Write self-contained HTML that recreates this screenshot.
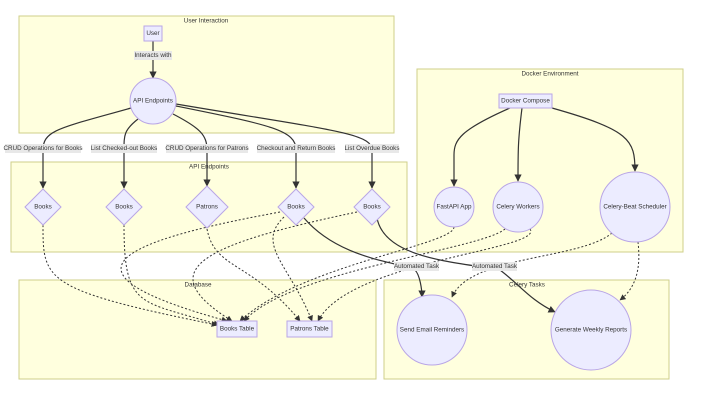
<!DOCTYPE html>
<html><head><meta charset="utf-8"><style>
html,body{margin:0;padding:0;background:#fff}
svg{display:block;font-family:"Liberation Sans",sans-serif}
.cl{fill:#ffffde;stroke:#cfcf8a;stroke-width:1}
.nd{fill:#ececff;stroke:#b9a6e6;stroke-width:1}
.e{fill:none;stroke:#333;stroke-width:1.2}
.d{fill:none;stroke:#333;stroke-width:1;stroke-dasharray:2 2}
text{font-size:6.3px;fill:#333;text-anchor:middle;dominant-baseline:central}
.lb{fill:#e8e8e8}
</style></head><body>
<svg width="721" height="419" viewBox="0 0 721 419">
<defs><marker id="a" viewBox="0 0 10 10" refX="9" refY="5" markerWidth="6" markerHeight="6" orient="auto"><path d="M0,0L10,5L0,10z" fill="#333"/></marker></defs>
<rect class="cl" x="19" y="16" width="375" height="117"/>
<rect class="cl" x="11" y="162" width="396" height="90"/>
<rect class="cl" x="417" y="69" width="266" height="183"/>
<rect class="cl" x="19" y="280" width="357" height="99"/>
<rect class="cl" x="384" y="280" width="285" height="99"/>
<text x="206" y="21">User Interaction</text>
<text x="209" y="167">API Endpoints</text>
<text x="550" y="74">Docker Environment</text>
<text x="198" y="285">Database</text>
<text x="527" y="285">Celery Tasks</text>
<!-- solid edges -->
<path class="e" d="M153,41V78" marker-end="url(#a)"/>
<path class="e" d="M131,108C60,128 43,130 43,150V188" marker-end="url(#a)"/>
<path class="e" d="M138,119C124,130 124,135 124,150V188" marker-end="url(#a)"/>
<path class="e" d="M173,114C200,128 207,135 207,150V186" marker-end="url(#a)"/>
<path class="e" d="M176,106C270,125 296,130 296,150V188" marker-end="url(#a)"/>
<path class="e" d="M176,104C330,130 372,133 372,150V188" marker-end="url(#a)"/>
<path class="e" d="M510,108C460,130 454,140 454,155V186" marker-end="url(#a)"/>
<path class="e" d="M522,108C518,140 518,150 518,181" marker-end="url(#a)"/>
<path class="e" d="M552,108C630,130 635,140 635,171" marker-end="url(#a)"/>
<path class="e" d="M304,218C340,260 400,262 415,270C420,275 422,290 422,297" marker-end="url(#a)"/>
<path class="e" d="M377,218C385,260 460,262 500,270C520,285 530,300 555,312" marker-end="url(#a)"/>
<!-- dotted -->
<path class="d" d="M43,225C43,280 43,290 217,325" marker-end="url(#a)"/>
<path class="d" d="M124,225C124,310 140,300 219,325" marker-end="url(#a)"/>
<path class="d" d="M207,229C215,270 250,260 300,321" marker-end="url(#a)"/>
<path class="d" d="M280,212C100,245 60,275 227,321" marker-end="url(#a)"/>
<path class="d" d="M357,212C200,245 150,270 232,321" marker-end="url(#a)"/>
<path class="d" d="M284,217C255,245 290,265 312,321" marker-end="url(#a)"/>
<path class="d" d="M454,227C454,245 300,265 240,321" marker-end="url(#a)"/>
<path class="d" d="M505,229C480,250 290,270 244,321" marker-end="url(#a)"/>
<path class="d" d="M530,229C545,250 350,260 318,321" marker-end="url(#a)"/>
<path class="d" d="M612,233C580,260 470,255 452,297" marker-end="url(#a)"/>
<path class="d" d="M638,242C640,260 640,285 620,300" marker-end="url(#a)"/>
<!-- nodes -->
<rect class="nd" x="144" y="26" width="18" height="15"/><text x="153" y="33.5">User</text>
<circle class="nd" cx="153" cy="101" r="23"/><text x="153" y="101">API Endpoints</text>
<path class="nd" d="M43,189L61,207L43,225L25,207z"/>
<path class="nd" d="M124,189L142,207L124,225L106,207z"/>
<path class="nd" d="M207,186L228,207L207,228L186,207z"/>
<path class="nd" d="M296,189L314,207L296,225L278,207z"/>
<path class="nd" d="M372,189L390,207L372,225L354,207z"/>
<text x="43" y="207">Books</text><text x="124" y="207">Books</text><text x="207" y="207">Patrons</text><text x="296" y="207">Books</text><text x="372" y="207">Books</text>
<rect class="nd" x="499" y="94" width="53" height="14"/><text x="525.5" y="101">Docker Compose</text>
<circle class="nd" cx="454" cy="207" r="20"/><text x="454" y="207">FastAPI App</text>
<circle class="nd" cx="518" cy="207" r="25"/><text x="518" y="207">Celery Workers</text>
<circle class="nd" cx="635" cy="207" r="35"/><text x="635" y="207">Celery-Beat Scheduler</text>
<rect class="nd" x="217" y="321" width="40" height="16"/><text x="237" y="329">Books Table</text>
<rect class="nd" x="287" y="321" width="45" height="16"/><text x="309.5" y="329">Patrons Table</text>
<circle class="nd" cx="432" cy="330" r="35"/><text x="432" y="330">Send Email Reminders</text>
<circle class="nd" cx="591" cy="330" r="40"/><text x="591" y="330">Generate Weekly Reports</text>
<!-- labels -->
<rect class="lb" x="134" y="51" width="38" height="9"/><text x="153" y="55.5">Interacts with</text>
<rect class="lb" x="5" y="144" width="76" height="9"/><text x="43" y="148.5">CRUD Operations for Books</text>
<rect class="lb" x="91" y="144" width="66" height="9"/><text x="124" y="148.5">List Checked-out Books</text>
<rect class="lb" x="166" y="144" width="82" height="9"/><text x="207" y="148.5">CRUD Operations for Patrons</text>
<rect class="lb" x="257" y="144" width="78" height="9"/><text x="296" y="148.5">Checkout and Return Books</text>
<rect class="lb" x="345" y="144" width="54" height="9"/><text x="372" y="148.5">List Overdue Books</text>
<rect class="lb" x="394" y="262" width="45" height="9"/><text x="416.5" y="266.5">Automated Task</text>
<rect class="lb" x="472" y="262" width="45" height="9"/><text x="494.5" y="266.5">Automated Task</text>
</svg>
</body></html>
